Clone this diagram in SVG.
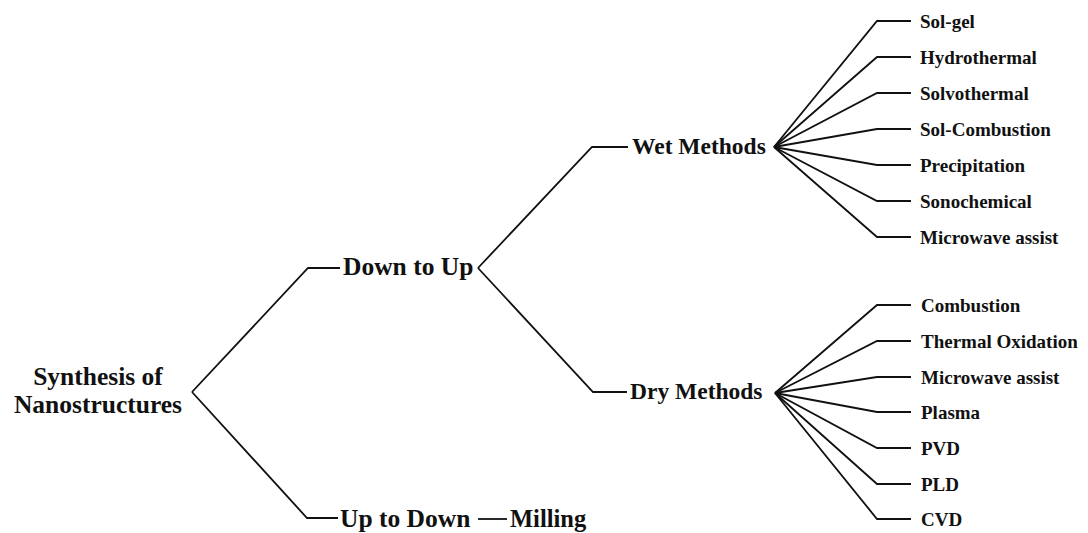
<svg xmlns="http://www.w3.org/2000/svg" width="1088" height="533" viewBox="0 0 1088 533">
  <style>
    .t { font-family: "Liberation Serif", "Times New Roman", serif; font-weight: bold; fill: #111; }
    .root { font-size: 25.5px; text-anchor: middle; }
    .l1 { font-size: 25.5px; }
    .l2 { font-size: 23.5px; }
    .leaf { font-size: 19px; }
    .edge { fill: none; stroke: #111; stroke-width: 1.8; stroke-linejoin: miter; }
  </style>
  <rect width="1088" height="533" fill="#ffffff"/>

  <!-- connectors -->
  <g id="connectors" class="edge">
    <!-- root branches -->
    <polyline points="192,392 308,268 340,268"/>
    <polyline points="192,392 307,518 338,518"/>
    <!-- Down to Up branches -->
    <polyline points="478,268 592,147 628,147"/>
    <polyline points="478,268 593,392 627,392"/>
    <!-- Up to Down to Milling -->
    <line x1="478" y1="519" x2="507" y2="519"/>
    <!-- wet methods fan -->
    <polyline points="774,147 877,21 911,21"/>
    <polyline points="774,147 877,57 911,57"/>
    <polyline points="774,147 877,93 911,93"/>
    <polyline points="774,147 877,129 911,129"/>
    <polyline points="774,147 877,165 911,165"/>
    <polyline points="774,147 877,201 911,201"/>
    <polyline points="774,147 877,237 911,237"/>
    <!-- dry methods fan -->
    <polyline points="775,393 877,305 911,305"/>
    <polyline points="775,393 877,341 911,341"/>
    <polyline points="775,393 877,377 911,377"/>
    <polyline points="775,393 877,412 911,412"/>
    <polyline points="775,393 877,448 911,448"/>
    <polyline points="775,393 877,484 911,484"/>
    <polyline points="775,393 877,519 911,519"/>
  </g>

  <!-- nodes -->
  <g id="node-root">
    <text class="t root" x="98" y="385">Synthesis of</text>
    <text class="t root" x="98" y="413">Nanostructures</text>
  </g>
  <g id="node-down-to-up"><text class="t l1" x="343" y="275">Down to Up</text></g>
  <g id="node-up-to-down"><text class="t l1" x="340" y="527">Up to Down</text></g>
  <g id="node-milling"><text class="t l2" x="510" y="527" style="font-size:24.5px">Milling</text></g>
  <g id="node-wet"><text class="t l2" x="632" y="154">Wet Methods</text></g>
  <g id="node-dry"><text class="t l2" x="630" y="399">Dry Methods</text></g>

  <g id="node-sol-gel"><text class="t leaf" x="920" y="27.5">Sol-gel</text></g>
  <g id="node-hydrothermal"><text class="t leaf" x="920" y="63.5">Hydrothermal</text></g>
  <g id="node-solvothermal"><text class="t leaf" x="920" y="99.5">Solvothermal</text></g>
  <g id="node-sol-combustion"><text class="t leaf" x="920" y="135.5">Sol-Combustion</text></g>
  <g id="node-precipitation"><text class="t leaf" x="920" y="171.5">Precipitation</text></g>
  <g id="node-sonochemical"><text class="t leaf" x="920" y="207.5">Sonochemical</text></g>
  <g id="node-microwave-wet"><text class="t leaf" x="920" y="243.5">Microwave assist</text></g>

  <g id="node-combustion"><text class="t leaf" x="921" y="311.5">Combustion</text></g>
  <g id="node-thermal-oxidation"><text class="t leaf" x="921" y="347.5">Thermal Oxidation</text></g>
  <g id="node-microwave-dry"><text class="t leaf" x="921" y="383.5">Microwave assist</text></g>
  <g id="node-plasma"><text class="t leaf" x="921" y="418.5">Plasma</text></g>
  <g id="node-pvd"><text class="t leaf" x="921" y="454.5">PVD</text></g>
  <g id="node-pld"><text class="t leaf" x="921" y="490.5">PLD</text></g>
  <g id="node-cvd"><text class="t leaf" x="921" y="525.5">CVD</text></g>
</svg>
